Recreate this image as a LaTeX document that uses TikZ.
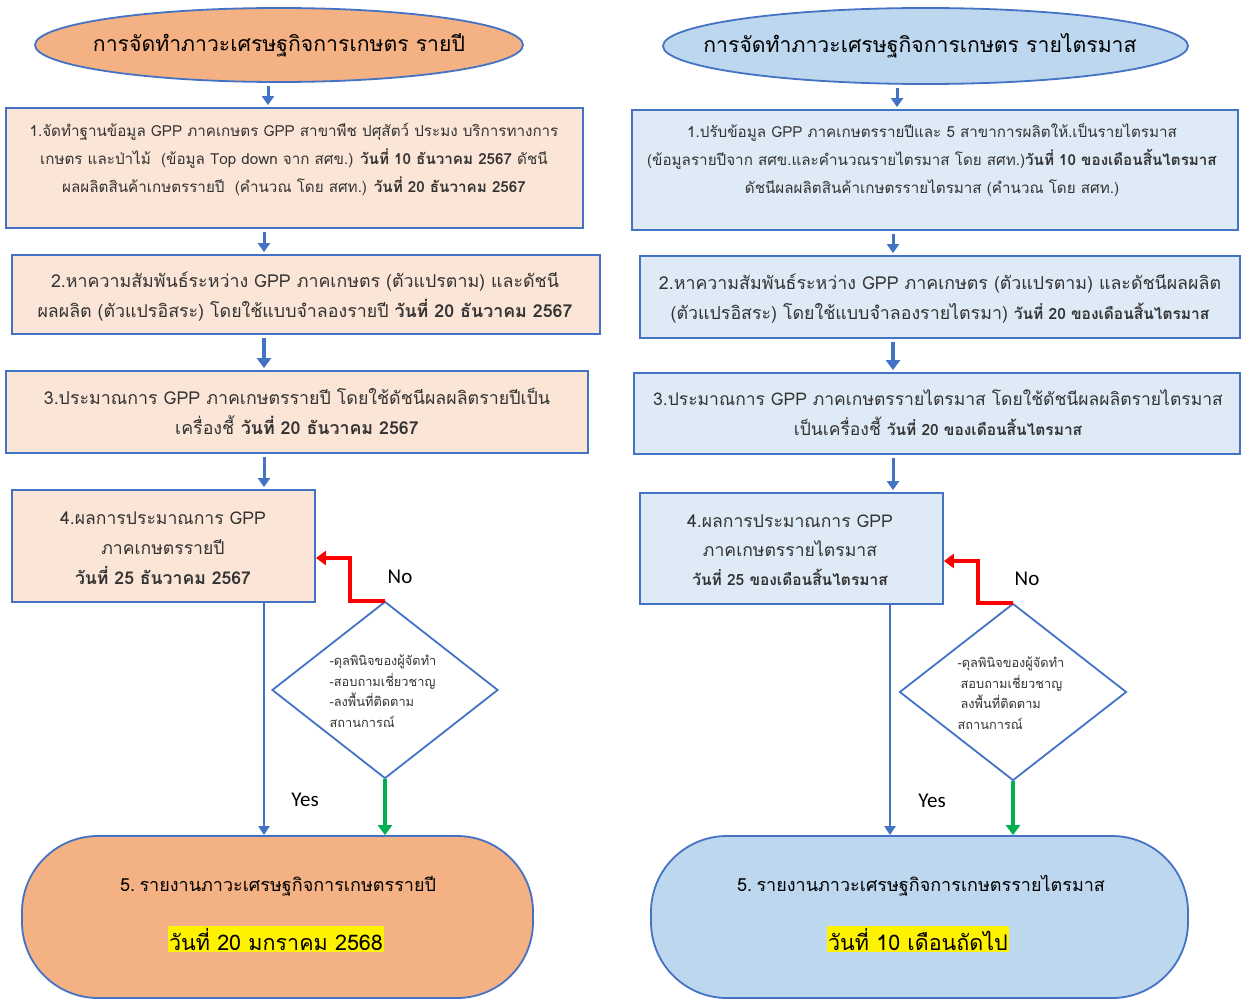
\documentclass[tikz,border=0pt]{standalone}
\usepackage{fontspec}
\setmainfont[Script=Thai]{Loma}
\newfontfamily\latinf{Carlito}
\usetikzlibrary{arrows.meta,shapes.geometric}
\definecolor{bord}{HTML}{4472C4}
\definecolor{orangeF}{HTML}{F4B183}
\definecolor{peach}{HTML}{FBE5D6}
\definecolor{blueF}{HTML}{BDD7EE}
\definecolor{paleB}{HTML}{DEEBF7}
\definecolor{redA}{HTML}{FF0000}
\definecolor{greenA}{HTML}{00B050}
\definecolor{txtc}{HTML}{333333}
\newcommand\myfs[2]{\fontsize{#1}{#2}\selectfont}
\begin{document}
\begin{tikzpicture}[x=1pt,y=-1pt,
  shp/.style={draw=bord, line width=1.8pt, inner sep=0pt},
  boxL/.style={shp, rectangle, fill=peach},
  boxR/.style={shp, rectangle, fill=paleB},
  ell/.style={shp, ellipse},
  dia/.style={shp, diamond, fill=white},
  stad/.style={shp, rectangle, rounded corners=76pt},
  tx/.style={align=center, inner sep=0pt, text=txtc},
  txl/.style={align=left, inner sep=0pt, text=txtc},
  ttl/.style={align=center, inner sep=0pt, text=black, font=\myfs{21.2}{24}},
  yn/.style={inner sep=0pt, text=black, font=\latinf\myfs{21}{24}},
  hl/.style={fill=yellow, inner sep=1.5pt, text=black, font=\myfs{21.5}{24}},
  arr/.style={draw=bord, line width=3pt, shorten <=3pt, shorten >=2pt, -{Triangle[length=9pt,width=12pt]}},
  arrk/.style={draw=bord, line width=4.5pt, shorten <=3pt, shorten >=2pt, -{Triangle[length=10pt,width=14pt]}},
  arrn/.style={draw=bord, line width=2.5pt, -{Triangle[length=9pt,width=11pt]}},
  redarr/.style={draw=redA, line width=4pt, -{Triangle[length=10pt,width=14pt]}},
  grnarr/.style={draw=greenA, line width=4pt, -{Triangle[length=10pt,width=14pt]}}
]
\useasboundingbox (0,0) rectangle (1241,1000);
\fill[white] (0,0) rectangle (1241,1000);

% ---------------- LEFT ----------------
\node[ell, fill=orangeF, minimum width=488, minimum height=74] (L0) at (279,45) {};
\node[ttl] (L0t) at (279,45) {การจัดทำภาวะเศรษฐกิจการเกษตร รายปี};

\node[boxL, minimum width=577, minimum height=120] (L1) at (294.5,168) {};
\node[tx, font=\myfs{15.2}{28}] (L1t) at (294,159) {1.จัดทำฐานข้อมูล GPP ภาคเกษตร GPP สาขาพืช ปศุสัตว์ ประมง บริการทางการ\\
เกษตร และป่าไม้~ (ข้อมูล Top down จาก สศข.) \textbf{วันที่ 10 ธันวาคม 2567} ดัชนี\\
ผลผลิตสินค้าเกษตรรายปี~ (คำนวณ โดย สศท.) \textbf{วันที่ 20 ธันวาคม 2567}};

\node[boxL, minimum width=588, minimum height=79] (L2) at (306,294.5) {};
\node[tx, font=\myfs{17.8}{30}] (L2t) at (305,297) {2.หาความสัมพันธ์ระหว่าง GPP ภาคเกษตร (ตัวแปรตาม) และดัชนี\\
ผลผลิต (ตัวแปรอิสระ) โดยใช้แบบจำลองรายปี \textbf{วันที่ 20 ธันวาคม 2567}};

\node[boxL, minimum width=582, minimum height=82] (L3) at (297,412) {};
\node[tx, font=\myfs{17.8}{30}] (L3t) at (297,411) {3.ประมาณการ GPP ภาคเกษตรรายปี โดยใช้ดัชนีผลผลิตรายปีเป็น\\
เครื่องชี้ \textbf{วันที่ 20 ธันวาคม 2567}};

\node[boxL, minimum width=303, minimum height=112] (L4) at (163.5,546) {};
\node[tx, font=\myfs{17.6}{30}] (L4t) at (163,548) {4.ผลการประมาณการ GPP\\ ภาคเกษตรรายปี\\ \textbf{วันที่ 25 ธันวาคม 2567}};

\node[dia, minimum width=226, minimum height=177] (LD) at (385,690) {};
\node[txl, font=\myfs{12.8}{20.5}] (LDt) at (383,691) {-ดุลพินิจของผู้จัดทำ\\ -สอบถามเชี่ยวชาญ\\ -ลงพื้นที่ติดตาม\\ สถานการณ์};

\node[stad, fill=orangeF, minimum width=511, minimum height=162] (L5) at (277.5,917) {};
\node[tx, font=\myfs{18}{22}, text=black] (L5t) at (278,886) {5.\hspace{0.25em}รายงานภาวะเศรษฐกิจการเกษตรรายปี};
\node[hl] (L5d) at (276,939) {วันที่ 20 มกราคม 2568};

\draw[arr] (268,0 |- L0.south) -- (268,0 |- L1.north);
\draw[arr] (264,0 |- L1.south) -- (264,0 |- L2.north);
\draw[arrk] (264,0 |- L2.south) -- (264,0 |- L3.north);
\draw[arr] (264,0 |- L3.south) -- (264,0 |- L4.north);
\draw[arrn] (264,0 |- L4.south) -- (264,0 |- L5.north);
\draw[grnarr] (LD.south) -- (LD.south |- L5.north);
\draw[redarr] (LD.north) -- ++(-35,0) |- (L4.east |- 0,558);
\node[yn] (LNo) at (400,577) {No};
\node[yn] (LYes) at (305,800) {Yes};

% ---------------- RIGHT ----------------
\node[ell, fill=blueF, minimum width=525, minimum height=76] (R0) at (925.5,46) {};
\node[ttl] (R0t) at (920,46) {การจัดทำภาวะเศรษฐกิจการเกษตร รายไตรมาส};

\node[boxR, minimum width=606, minimum height=120] (R1) at (935,170) {};
\node[tx, font=\myfs{15.2}{28}] (R1t) at (932,160) {1.ปรับข้อมูล GPP ภาคเกษตรรายปีและ 5 สาขาการผลิตให้.เป็นรายไตรมาส\\
(ข้อมูลรายปีจาก สศข.และคำนวณรายไตรมาส โดย สศท.)\textbf{วันที่ 10 ของเดือนสิ้นไตรมาส}\\
ดัชนีผลผลิตสินค้าเกษตรรายไตรมาส (คำนวณ โดย สศท.)};

\node[boxR, minimum width=600, minimum height=82] (R2) at (940,297) {};
\node[tx, font=\myfs{17.8}{30}] (R2t) at (940,299) {2.หาความสัมพันธ์ระหว่าง GPP ภาคเกษตร (ตัวแปรตาม) และดัชนีผลผลิต\\
(ตัวแปรอิสระ) โดยใช้แบบจำลองรายไตรมา) {\bfseries\myfs{15.5}{30}วันที่ 20 ของเดือนสิ้นไตรมาส}};

\node[boxR, minimum width=606, minimum height=81] (R3) at (937,413.5) {};
\node[tx, font=\myfs{17.5}{30}] (R3t) at (938,412.5) {3.ประมาณการ GPP ภาคเกษตรรายไตรมาส โดยใช้ดัชนีผลผลิตรายไตรมาส\\
เป็นเครื่องชี้ {\bfseries\myfs{15.5}{30}วันที่ 20 ของเดือนสิ้นไตรมาส}};

\node[boxR, minimum width=303, minimum height=111] (R4) at (791.5,548.5) {};
\node[tx, font=\myfs{17.6}{29}] (R4t) at (790,550) {4.ผลการประมาณการ GPP\\ ภาคเกษตรรายไตรมาส\\ {\bfseries\myfs{15.5}{29}วันที่ 25 ของเดือนสิ้นไตรมาส}};

\node[dia, minimum width=227, minimum height=177] (RD) at (1013,692) {};
\node[txl, font=\myfs{12.8}{20.5}] (RDt) at (1011,693) {-ดุลพินิจของผู้จัดทำ\\ \hspace{3pt}สอบถามเชี่ยวชาญ\\ \hspace{3pt}ลงพื้นที่ติดตาม\\ สถานการณ์};

\node[stad, fill=blueF, minimum width=537, minimum height=162] (R5) at (919.5,917) {};
\node[tx, font=\myfs{18}{22}, text=black] (R5t) at (921,886) {5.\hspace{0.25em}รายงานภาวะเศรษฐกิจการเกษตรรายไตรมาส};
\node[hl] (R5d) at (918,939) {วันที่ 10 เดือนถัดไป};

\draw[arr] (897,0 |- R0.south) -- (897,0 |- R1.north);
\draw[arr] (893,0 |- R1.south) -- (893,0 |- R2.north);
\draw[arrk] (893,0 |- R2.south) -- (893,0 |- R3.north);
\draw[arr] (893,0 |- R3.south) -- (893,0 |- R4.north);
\draw[arrn] (890,0 |- R4.south) -- (890,0 |- R5.north);
\draw[grnarr] (RD.south) -- (RD.south |- R5.north);
\draw[redarr] (RD.north) -- ++(-35,0) |- (R4.east |- 0,561);
\node[yn] (RNo) at (1027,579) {No};
\node[yn] (RYes) at (932,801) {Yes};
\end{tikzpicture}
\end{document}
